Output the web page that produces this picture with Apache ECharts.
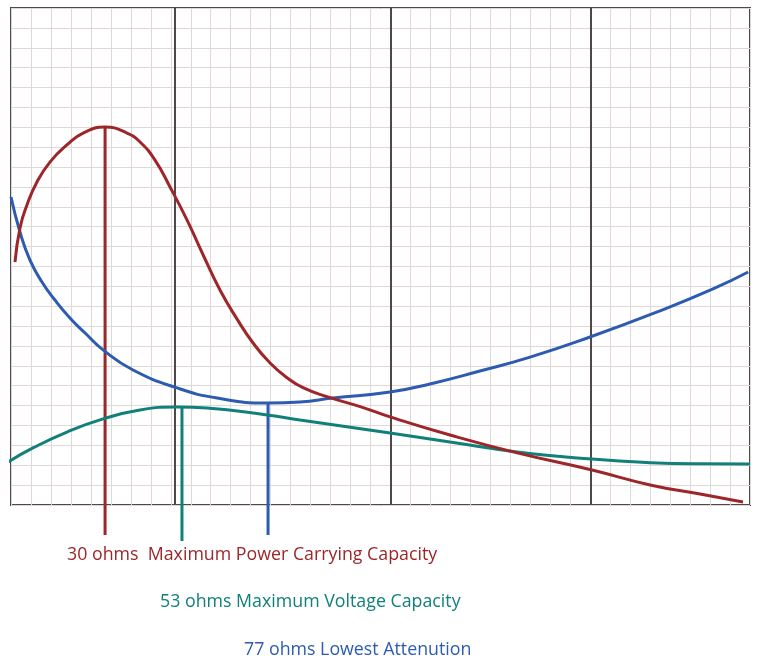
<!DOCTYPE html>
<html>
<head>
<meta charset="utf-8">
<script src="https://cdn.jsdelivr.net/npm/echarts@6/dist/echarts.min.js"></script>
<style>html,body{margin:0;padding:0;background:#fff}#c{width:760px;height:662px}</style>
</head>
<body>
<div id="c"></div>
<script>
// x in grid units (0..37), y in grid units (0..25)
var powerCurve = [[0.20,12.22],[0.45,13.93],[0.80,15.09],[1.30,16.25],[1.95,17.25],[2.80,18.11],[3.61,18.71],[4.71,19.01],[5.81,18.71],[6.46,18.26],[7.21,17.35],[7.96,16.00],[8.81,14.34],[9.61,12.60],[10.47,10.80],[11.32,9.35],[12.12,8.15],[12.97,7.14],[13.82,6.40],[14.62,5.90],[15.82,5.45],[17.48,4.95],[18.98,4.43],[21.98,3.52],[25.34,2.62],[29.09,1.76],[32.00,1.01],[34.50,0.55],[36.65,0.15]];
var attenuationCurve = [[0,15.49],[0.45,13.73],[0.95,12.32],[1.55,11.22],[2.20,10.31],[2.95,9.41],[3.71,8.65],[4.61,7.80],[6.11,6.79],[8.31,5.89],[10.32,5.38],[12.87,5.13],[14.47,5.18],[16.12,5.38],[18.98,5.68],[20.98,6.09],[23.48,6.74],[25.99,7.44],[28.99,8.45],[32.35,9.71],[35.15,10.87],[36.91,11.72]];
var voltageCurve = [[-0.15,2.16],[1.10,2.87],[2.80,3.67],[4.61,4.33],[6.46,4.78],[8.31,4.93],[9.81,4.88],[12.82,4.53],[14.47,4.28],[18.98,3.62],[21.98,3.17],[25.34,2.67],[29.09,2.31],[32.00,2.13],[34.50,2.07],[37.0,2.06]];
var powerMarker = [[4.71,19.01],[4.71,-1.51]];
var voltageMarker = [[8.56,4.93],[8.56,-1.81]];
var attenuationMarker = [[12.87,5.13],[12.87,-1.51]];
var majorLines = [8.2, 19.0, 29.05];
var labels = ["30 ohms  Maximum Power Carrying Capacity", "53 ohms Maximum Voltage Capacity", "77 ohms Lowest Attenution"];

var RED = '#9c2629', TEAL = '#11807a', BLUE = '#2c5bb0';
var chart = echarts.init(document.getElementById('c'), null, {renderer:'canvas'});
function curve(data, color){
  return {type:'line', data:data, smooth:0.5, showSymbol:false, clip:false, silent:true,
    lineStyle:{color:color, width:3}, z:5};
}
function marker(data, color){
  return {type:'line', data:data, showSymbol:false, clip:false, silent:true,
    lineStyle:{color:color, width:3}, z:4};
}
chart.setOption({
  animation:false,
  backgroundColor:'#ffffff',
  grid:{left:11, top:8, width:739, height:497, show:true, borderColor:'#4f4848', borderWidth:2, backgroundColor:'transparent'},
  xAxis:{type:'value', min:0, max:37, interval:1, axisLine:{show:false}, axisTick:{show:false}, axisLabel:{show:false},
    splitLine:{show:true, lineStyle:{color:'#e0d7d7', width:1}}},
  yAxis:{type:'value', min:0, max:25, interval:1, axisLine:{show:false}, axisTick:{show:false}, axisLabel:{show:false},
    splitLine:{show:true, lineStyle:{color:'#e0d7d7', width:1}}},
  series:[
    {type:'line', data:[], silent:true,
      markLine:{silent:true, symbol:'none', label:{show:false}, lineStyle:{color:'#4f4848', width:2, type:'solid'},
        data: majorLines.map(function(v){return {xAxis:v};})}, z:3},
    marker(powerMarker, RED),
    marker(voltageMarker, TEAL),
    marker(attenuationMarker, BLUE),
    curve(voltageCurve, TEAL),
    curve(attenuationCurve, BLUE),
    curve(powerCurve, RED)
  ],
  graphic:[
    {type:'text', left:67, top:546, style:{text:labels[0], fill:RED, font:'17.8px "Open Sans"'}},
    {type:'text', left:160, top:593, style:{text:labels[1], fill:TEAL, font:'17.8px "Open Sans"'}},
    {type:'text', left:244, top:641, style:{text:labels[2], fill:BLUE, font:'17.8px "Open Sans"'}}
  ]
});
</script>
</body>
</html>
